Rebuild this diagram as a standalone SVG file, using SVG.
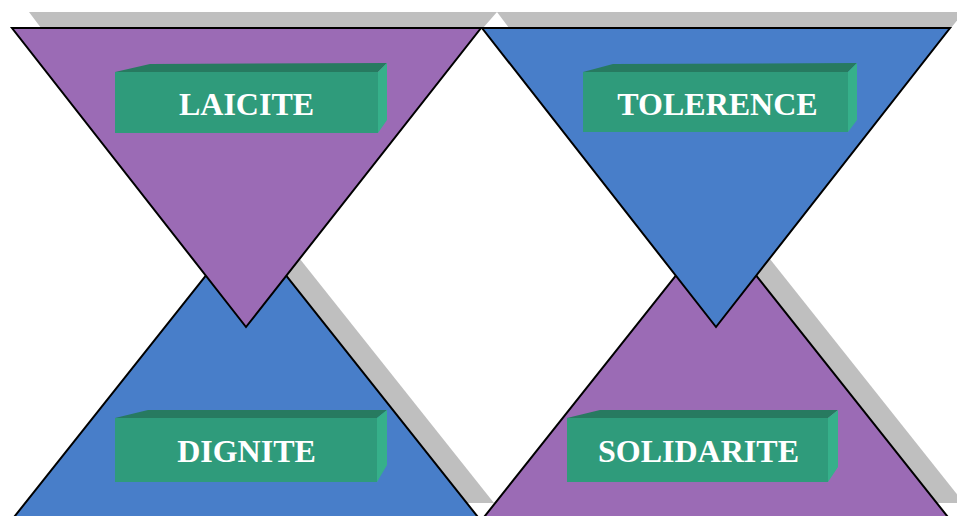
<svg xmlns="http://www.w3.org/2000/svg" width="957" height="516" viewBox="0 0 957 516">
<style>
.shadow{fill:#BFBFBF;stroke:none}
.purple{fill:#9B6BB5;stroke:#000;stroke-width:2;stroke-linejoin:miter}
.blue{fill:#487EC9;stroke:#000;stroke-width:2;stroke-linejoin:miter}
.front{fill:#2F9B7B}
.top{fill:#277A60}
.side{fill:#36B08A}
.lbl{font-family:"Liberation Serif","Times New Roman",serif;font-weight:bold;font-size:32px;fill:#fff;text-anchor:middle}
</style>
<rect width="957" height="516" fill="#fff"/>
<g id="shadows">
<polygon class="shadow" points="29,12 497,12 483,28 41,28"/>
<polygon class="shadow" points="497,12 964,12 951,28 509,28"/>
<polygon class="shadow" points="261,210 494,503 28,503"/>
<polygon class="shadow" points="731,210 964,503 498,503"/>
</g>
<g id="dignite">
<polygon class="blue" points="246,225 489,531 3,531"/>
<polygon class="front" points="115,418 377,418 377,482 115,482"/>
<polygon class="top" points="115,418 148,410 387,410 377,418"/>
<polygon class="side" points="377,418 387,410 387,465 377,482"/>
<text class="lbl" x="246.5" y="462">DIGNITE</text>
</g>
<g id="solidarite">
<polygon class="purple" points="716,225 959,531 473,531"/>
<polygon class="front" points="567,418 828,418 828,482 567,482"/>
<polygon class="top" points="567,418 600,410 838,410 828,418"/>
<polygon class="side" points="828,418 838,410 838,467 828,482"/>
<text class="lbl" x="698.5" y="462">SOLIDARITE</text>
</g>
<g id="laicite">
<polygon class="purple" points="12,28 481,28 246,327"/>
<polygon class="front" points="115,72 378,72 378,133 115,133"/>
<polygon class="top" points="115,72 150,64 387,63 378,72"/>
<polygon class="side" points="378,72 387,63 387,120 378,133"/>
<text class="lbl" x="246.5" y="115">LAICITE</text>
</g>
<g id="tolerence">
<polygon class="blue" points="482,28 950,28 716,327"/>
<polygon class="front" points="583,72 848,72 848,132 583,132"/>
<polygon class="top" points="583,72 613,64 857,63 848,72"/>
<polygon class="side" points="848,72 857,63 857,120 848,132"/>
<text class="lbl" x="717.5" y="115">TOLERENCE</text>
</g>
<g id="connectors"/>
</svg>
